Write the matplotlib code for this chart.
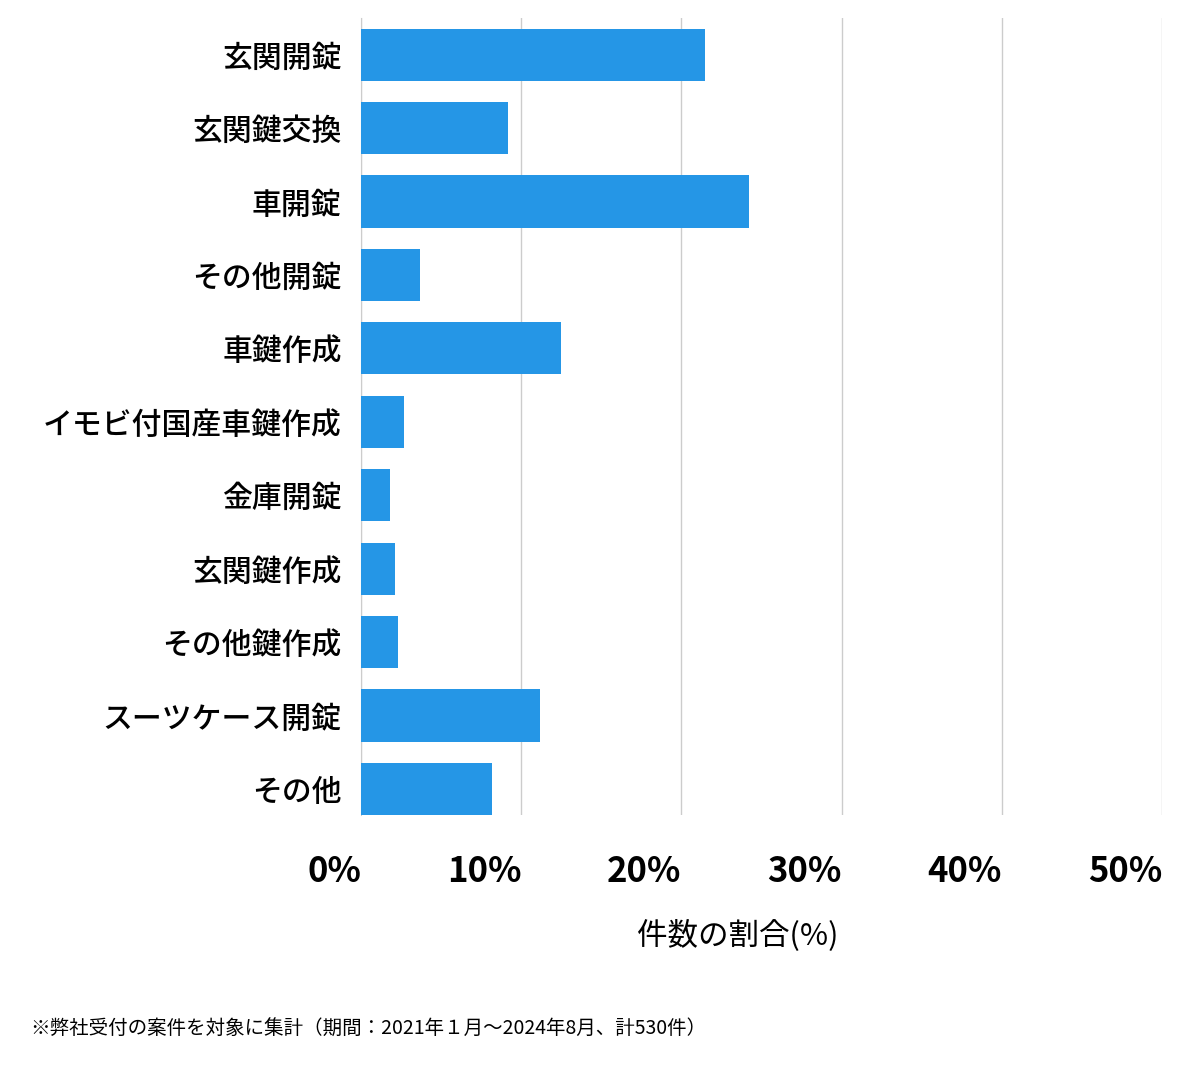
import matplotlib
matplotlib.use("Agg")
import matplotlib.pyplot as plt

categories = ["玄関開錠", "玄関鍵交換", "車開錠", "その他開錠", "車鍵作成", "イモビ付国産車鍵作成",
              "金庫開錠", "玄関鍵作成", "その他鍵作成", "スーツケース開錠", "その他"]
values = [21.5, 9.2, 24.2, 3.7, 12.5, 2.7, 1.8, 2.1, 2.3, 11.2, 8.2]
xticks = [0, 10, 20, 30, 40, 50]
xtick_labels = ["0%", "10%", "20%", "30%", "40%", "50%"]

plt.rcParams["font.family"] = "Noto Sans CJK JP"
fig = plt.figure(figsize=(12, 10.69), dpi=100)
ax = fig.add_axes([361/1200, 1-815/1069, 801/1200, 797/1069])
y = list(range(len(categories)))
ax.barh(y, values, height=0.71, color="#2596e6", zorder=3)
ax.set_ylim(len(categories)-1+0.355, -0.5)
ax.set_xlim(0, 50)
ax.set_yticks(y)
ax.set_yticklabels(categories, fontsize=21.5, fontweight="medium")
ax.set_xticks(xticks)
ax.set_xticklabels(xtick_labels, fontsize=25, fontweight="bold", ha="right")
ax.tick_params(axis="both", length=0)
ax.tick_params(axis="x", pad=28)
ax.tick_params(axis="y", pad=14)
ax.grid(axis="x", color="#cccccc", linewidth=1, zorder=0)
for s in ["top", "right", "bottom"]:
    ax.spines[s].set_visible(False)
ax.spines["left"].set_color("#cccccc")
fig.text(738/1200, 1-935/1069, "件数の割合(%)", fontsize=22, ha="center", va="center")
fig.text(30/1200, 1-1028/1069, "※弊社受付の案件を対象に集計（期間：2021年１月～2024年8月、計530件）",
         fontsize=14, ha="left", va="center")
fig.savefig("out.png", dpi=100)
